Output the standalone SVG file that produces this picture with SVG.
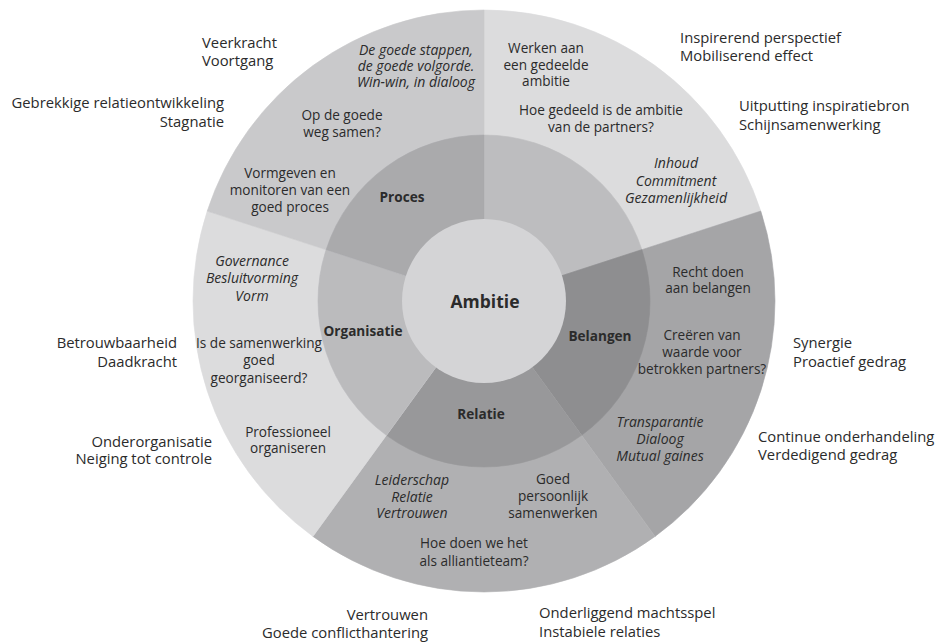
<svg xmlns="http://www.w3.org/2000/svg" width="938" height="642" viewBox="0 0 938 642">
<style>
text{font-family:"Open Sans","Noto Sans","DejaVu Sans",sans-serif;font-size:13.6px;fill:#2b2b2b}
.c{text-anchor:middle}
.s{text-anchor:start}
.e{text-anchor:end}
.i{font-style:italic;font-size:14px}
.b{font-weight:bold;font-size:13.6px}
.o{font-size:14.8px}
.big{font-size:17.5px;font-weight:bold}
path{stroke-width:0.6}
</style>
<rect width="938" height="642" fill="#ffffff"/>
<g id="sector-ambitie">
<path d="M484 301 L484 10 A291 291 0 0 1 760.76 211.08 Z" fill="#dcdcdd" stroke="#dcdcdd"/>
<path d="M484 301 L484 135 A166 166 0 0 1 641.88 249.7 Z" fill="#bdbdbf" stroke="#bdbdbf"/>
<text class="c" x="546" y="53">Werken aan<tspan x="546" y="70">een gedeelde</tspan><tspan x="546" y="86">ambitie</tspan></text>
<text class="c" x="601" y="115">Hoe gedeeld is de ambitie<tspan x="601" y="132">van de partners?</tspan></text>
<text class="c i" x="676" y="168">Inhoud<tspan x="676" y="186">Commitment</tspan><tspan x="676" y="203">Gezamenlijkheid</tspan></text>
</g>
<g id="sector-belangen">
<path d="M484 301 L760.76 211.08 A291 291 0 0 1 655.05 536.42 Z" fill="#a5a5a7" stroke="#a5a5a7"/>
<path d="M484 301 L641.88 249.7 A166 166 0 0 1 581.57 435.3 Z" fill="#8e8e90" stroke="#8e8e90"/>
<text class="c b" x="600" y="341">Belangen</text>
<text class="c" x="708" y="277">Recht doen<tspan x="708" y="293">aan belangen</tspan></text>
<text class="c" x="702" y="340">Creëren van<tspan x="702" y="357">waarde voor</tspan><tspan x="702" y="374">betrokken partners?</tspan></text>
<text class="c i" x="660" y="427">Transparantie<tspan x="660" y="444">Dialoog</tspan><tspan x="660" y="461">Mutual gaines</tspan></text>
</g>
<g id="sector-relatie">
<path d="M484 301 L655.05 536.42 A291 291 0 0 1 312.95 536.42 Z" fill="#b0b0b2" stroke="#b0b0b2"/>
<path d="M484 301 L581.57 435.3 A166 166 0 0 1 386.43 435.3 Z" fill="#98989a" stroke="#98989a"/>
<text class="c b" x="481" y="419">Relatie</text>
<text class="c i" x="412" y="485">Leiderschap<tspan x="412" y="502">Relatie</tspan><tspan x="412" y="518">Vertrouwen</tspan></text>
<text class="c" x="553" y="484">Goed<tspan x="553" y="501">persoonlijk</tspan><tspan x="553" y="518">samenwerken</tspan></text>
<text class="c" x="474" y="548">Hoe doen we het<tspan x="474" y="566">als alliantieteam?</tspan></text>
</g>
<g id="sector-organisatie">
<path d="M484 301 L312.95 536.42 A291 291 0 0 1 207.24 211.08 Z" fill="#dcdcdd" stroke="#dcdcdd"/>
<path d="M484 301 L386.43 435.3 A166 166 0 0 1 326.12 249.7 Z" fill="#bbbbbd" stroke="#bbbbbd"/>
<text class="c b" x="363" y="336">Organisatie</text>
<text class="c i" x="252" y="266">Governance<tspan x="252" y="283">Besluitvorming</tspan><tspan x="252" y="301">Vorm</tspan></text>
<text class="c" x="259" y="348">Is de samenwerking<tspan x="259" y="365">goed</tspan><tspan x="259" y="383">georganiseerd?</tspan></text>
<text class="c" x="288" y="437">Professioneel<tspan x="288" y="453">organiseren</tspan></text>
</g>
<g id="sector-proces">
<path d="M484 301 L207.24 211.08 A291 291 0 0 1 484 10 Z" fill="#c9c9cb" stroke="#c9c9cb"/>
<path d="M484 301 L326.12 249.7 A166 166 0 0 1 484 135 Z" fill="#aaaaac" stroke="#aaaaac"/>
<text class="c b" x="402" y="202">Proces</text>
<text class="c i" x="416" y="55">De goede stappen,<tspan x="416" y="71">de goede volgorde.</tspan><tspan x="416" y="87">Win-win, in dialoog</tspan></text>
<text class="c" x="342" y="120">Op de goede<tspan x="342" y="137">weg samen?</tspan></text>
<text class="c" x="290" y="178">Vormgeven en<tspan x="290" y="195">monitoren van een</tspan><tspan x="290" y="212">goed proces</tspan></text>
</g>
<g id="center-ambitie">
<circle cx="484" cy="301" r="82" fill="#d4d4d6"/>
<text class="c big" x="485" y="308">Ambitie</text>
</g>
<g id="outer-labels">
<text class="s o" x="202" y="48">Veerkracht<tspan x="202" y="66">Voortgang</tspan></text>
<text class="e o" x="224" y="108">Gebrekkige relatieontwikkeling<tspan x="224" y="127">Stagnatie</tspan></text>
<text class="s o" x="680" y="43">Inspirerend perspectief<tspan x="680" y="61">Mobiliserend effect</tspan></text>
<text class="s o" x="739" y="111">Uitputting inspiratiebron<tspan x="739" y="130">Schijnsamenwerking</tspan></text>
<text class="s o" x="793" y="348">Synergie<tspan x="793" y="367">Proactief gedrag</tspan></text>
<text class="s o" x="758" y="442">Continue onderhandeling<tspan x="758" y="460">Verdedigend gedrag</tspan></text>
<text class="s o" x="539" y="618">Onderliggend machtsspel<tspan x="539" y="637">Instabiele relaties</tspan></text>
<text class="e o" x="428" y="620">Vertrouwen<tspan x="428" y="638">Goede conflicthantering</tspan></text>
<text class="e o" x="212" y="447">Onderorganisatie<tspan x="212" y="464">Neiging tot controle</tspan></text>
<text class="e o" x="177" y="348">Betrouwbaarheid<tspan x="177" y="367">Daadkracht</tspan></text>
</g>
</svg>
